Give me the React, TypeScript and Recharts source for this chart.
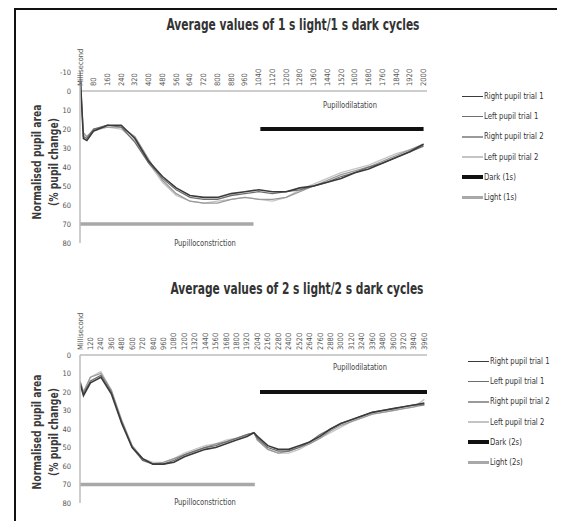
import React from "react";
import { LineChart, Line, XAxis, YAxis, ReferenceLine } from "recharts";

const FONT = "'Liberation Sans Narrow', 'DejaVu Sans Condensed', 'Roboto', sans-serif";

// ---- 1 s light / 1 s dark ----
const MS_1S = [0, 20, 40, 80, 160, 240, 320, 400, 480, 560, 640, 720, 800, 880, 960, 1040, 1120, 1200, 1280, 1360, 1440, 1520, 1600, 1680, 1760, 1840, 1920, 2000];
const RIGHT1_1S = [-10, 25, 26, 21, 18, 18, 25, 37, 45, 51, 55, 56, 56, 54, 53, 52, 53, 53, 51, 50, 48, 46, 43, 41, 38, 35, 32, 28];
const LEFT1_1S = [-10, 24, 25, 20, 18, 19, 27, 38, 46, 52, 56, 57, 57, 55, 54, 53, 54, 53, 52, 50, 48, 45, 43, 40, 38, 35, 32, 29];
const RIGHT2_1S = [null, 22, 24, 20, 19, 19, 24, 36, 47, 54, 58, 59, 59, 57, 56, 57, 57, 56, 53, 50, 47, 44, 42, 40, 37, 34, 31, 28];
const LEFT2_1S = [null, 23, 24, 21, 19, 20, 26, 38, 48, 55, 58, 59, 58, 57, 56, 57, 58, 56, 52, 49, 46, 43, 41, 39, 36, 33, 31, 28];
const LIGHT_MS_1S = [0, 1010];
const DARK_MS_1S = [1050, 2000];
const X_TICKS_1S = [0, 80, 160, 240, 320, 400, 480, 560, 640, 720, 800, 880, 960, 1040, 1120, 1200, 1280, 1360, 1440, 1520, 1600, 1680, 1760, 1840, 1920, 2000];
const Y_TICKS_1S = [-10, 0, 10, 20, 30, 40, 50, 60, 70, 80];
const NAMES_1S = ["Right pupil trial 1", "Left pupil trial 1", "Right pupil trial 2", "Left pupil trial 2", "Dark (1s)", "Light (1s)"];

// ---- 2 s light / 2 s dark ----
const MS_2S = [0, 40, 120, 240, 360, 480, 600, 720, 840, 960, 1080, 1200, 1320, 1440, 1560, 1680, 1800, 1920, 2000, 2040, 2160, 2280, 2400, 2520, 2640, 2760, 2880, 3000, 3120, 3240, 3360, 3480, 3600, 3720, 3840, 3960];
const RIGHT1_2S = [15, 22, 15, 12, 21, 37, 50, 56, 59, 59, 58, 55, 53, 51, 50, 48, 46, 44, 42, 44, 49, 51, 51, 49, 47, 44, 40, 37, 35, 33, 31, 30, 29, 28, 27, 26];
const LEFT1_2S = [16, 21, 14, 11, 20, 36, 50, 57, 59, 59, 57, 54, 52, 50, 49, 47, 45, 43, 42, 45, 50, 52, 52, 50, 47, 43, 40, 37, 35, 33, 31, 30, 29, 28, 27, 27];
const RIGHT2_2S = [14, 20, 12, 10, 19, 36, 49, 56, 59, 58, 56, 54, 52, 50, 48, 47, 45, 43, 42, 46, 51, 53, 52, 50, 48, 45, 41, 38, 36, 34, 32, 31, 30, 29, 28, 27];
const LEFT2_2S = [14, 20, 12, 9, 19, 35, 49, 56, 58, 58, 56, 53, 51, 49, 48, 46, 45, 43, 42, 46, 51, 53, 53, 51, 48, 45, 42, 39, 36, 34, 32, 31, 30, 29, 28, 24];
const LIGHT_MS_2S = [0, 2010];
const DARK_MS_2S = [2070, 3990];
const X_TICKS_2S = [0, 120, 240, 360, 480, 600, 720, 840, 960, 1080, 1200, 1320, 1440, 1560, 1680, 1800, 1920, 2040, 2160, 2280, 2400, 2520, 2640, 2760, 2880, 3000, 3120, 3240, 3360, 3480, 3600, 3720, 3840, 3960];
const Y_TICKS_2S = [0, 10, 20, 30, 40, 50, 60, 70, 80];
const NAMES_2S = ["Right pupil trial 1", "Left pupil trial 1", "Right pupil trial 2", "Left pupil trial 2", "Dark (2s)", "Light (2s)"];

const LIGHT_LEVEL = 70;
const DARK_LEVEL = 20;

// look of each series, same order as the names
const STYLES = [
  { color: "#3a3a3a", width: 1.6 },
  { color: "#6e6e6e", width: 1.3 },
  { color: "#9a9a9a", width: 1.3 },
  { color: "#c4c4c4", width: 1.3 },
  { color: "#111111", width: 4 },
  { color: "#a8a8a8", width: 3.5 },
];

function rowsOf(ms: number[], a: any[], b: any[], c: any[], d: any[]) {
  return ms.map((m, i) => ({ ms: m, r1: a[i], l1: b[i], r2: c[i], l2: d[i] }));
}
function levelRows(ms: number[], v: number) {
  return ms.map((m) => ({ ms: m, v }));
}

function RotTick(props: any) {
  const { x, payload, zeroY } = props;
  const label = payload.value === 0 ? "Millisecond" : String(payload.value);
  return (
    <text
      transform={`translate(${x + 2.5},${zeroY - 5}) rotate(-90)`}
      textAnchor="start"
      fontSize={7.5}
      fill="#555"
      fontFamily={FONT}
    >
      {label}
    </text>
  );
}

type PanelProps = {
  top: number;
  height: number;
  marginTop: number;
  marginBottom: number;
  rows: any[];
  light: any[];
  dark: any[];
  xMax: number;
  xTicks: number[];
  yTicks: number[];
  names: string[];
};

const PLOT_LEFT = 72;
const PLOT_RIGHT = 419;

function Panel(p: PanelProps) {
  const yMin = p.yTicks[0];
  const yMax = p.yTicks[p.yTicks.length - 1];
  const plotTop = p.marginTop + 1;
  const plotH = p.height - p.marginBottom - plotTop;
  const zeroY = plotTop + (plotH * (0 - yMin)) / (yMax - yMin);
  const keys = ["r1", "l1", "r2", "l2"];
  return (
    <div style={{ position: "absolute", left: 0, top: p.top }}>
      <LineChart
        width={557}
        height={p.height}
        margin={{ top: p.marginTop, right: 557 - PLOT_RIGHT, bottom: p.marginBottom, left: PLOT_LEFT - 30 }}
      >
        <XAxis
          dataKey="ms"
          type="number"
          domain={[0, p.xMax]}
          ticks={p.xTicks}
          interval={0}
          orientation="top"
          height={1}
          axisLine={false}
          tickLine={false}
          tick={(t: any) => <RotTick {...t} zeroY={zeroY} />}
          allowDataOverflow
        />
        <YAxis
          type="number"
          reversed
          domain={[yMin, yMax]}
          ticks={p.yTicks}
          interval={0}
          width={30}
          tickLine={false}
          axisLine={{ stroke: "#bdbdbd", strokeWidth: 1.5 }}
          tick={{ fontSize: 7.5, fill: "#555", fontFamily: FONT }}
          tickMargin={3}
        />
        <ReferenceLine y={0} stroke="#bdbdbd" strokeWidth={1.5} />
        <Line data={p.light} dataKey="v" name={p.names[5]} stroke={STYLES[5].color} strokeWidth={STYLES[5].width} dot={false} isAnimationActive={false} />
        <Line data={p.dark} dataKey="v" name={p.names[4]} stroke={STYLES[4].color} strokeWidth={STYLES[4].width} dot={false} isAnimationActive={false} />
        {[3, 2, 1, 0].map((i) => (
          <Line
            key={keys[i]}
            data={p.rows}
            dataKey={keys[i]}
            name={p.names[i]}
            stroke={STYLES[i].color}
            strokeWidth={STYLES[i].width}
            dot={false}
            type="linear"
            isAnimationActive={false}
          />
        ))}
      </LineChart>
    </div>
  );
}

function Legend({ names, left, top }: { names: string[]; left: number; top: number }) {
  return (
    <div style={{ position: "absolute", left, top }}>
      {names.map((n, i) => (
        <div key={n} style={{ position: "absolute", top: i * 20.2, left: 0, display: "flex", alignItems: "center", whiteSpace: "nowrap" }}>
          <div style={{ width: 21, height: STYLES[i].width, background: STYLES[i].color }} />
          <span style={{ marginLeft: 1, fontSize: 9, color: "#333", fontFamily: FONT, lineHeight: "10px", marginTop: -1, display: "inline-block", transform: "scaleX(0.85)", transformOrigin: "left center" }}>{n}</span>
        </div>
      ))}
    </div>
  );
}

function RotLabel({ cx, cy }: { cx: number; cy: number }) {
  return (
    <div
      style={{
        position: "absolute",
        left: cx - 90,
        top: cy - 17,
        width: 180,
        height: 34,
        transform: "rotate(-90deg) scaleX(0.82)",
        textAlign: "center",
        fontFamily: FONT,
        fontWeight: "bold",
        fontSize: 12.5,
        lineHeight: "17px",
        color: "#3a3a3a",
      }}
    >
      Normalised pupil area
      <br />
      (% pupil change)
    </div>
  );
}

function Note({ text, cx, cy }: { text: string; cx: number; cy: number }) {
  return (
    <div style={{ position: "absolute", left: cx - 60, top: cy - 6, width: 120, textAlign: "center", fontFamily: FONT, fontSize: 8.5, color: "#444", lineHeight: "12px", transform: "scaleX(0.88)" }}>
      {text}
    </div>
  );
}

function Title({ text, cx, cy }: { text: string; cx: number; cy: number }) {
  return (
    <div style={{ position: "absolute", left: cx - 180, top: cy - 9, width: 360, textAlign: "center", fontFamily: FONT, fontWeight: "bold", fontSize: 15, color: "#333", lineHeight: "18px", transform: "scaleX(0.79)" }}>
      {text}
    </div>
  );
}

export default function App() {
  const rows1 = rowsOf(MS_1S, RIGHT1_1S, LEFT1_1S, RIGHT2_1S, LEFT2_1S);
  const rows2 = rowsOf(MS_2S, RIGHT1_2S, LEFT1_2S, RIGHT2_2S, LEFT2_2S);
  return (
    <div style={{ position: "relative", width: 557, height: 513, overflow: "hidden", background: "#fff" }}>
      <div style={{ position: "absolute", left: 6, top: 0, width: 600, height: 600, borderTop: "2px solid #111", borderLeft: "2px solid #111" }} />
      <Title text="Average values of 1 s light/1 s dark cycles" cx={285} cy={17} />
      <Panel
        top={0}
        height={250}
        marginTop={63}
        marginBottom={15}
        rows={rows1}
        light={levelRows(LIGHT_MS_1S, LIGHT_LEVEL)}
        dark={levelRows(DARK_MS_1S, DARK_LEVEL)}
        xMax={2020}
        xTicks={X_TICKS_1S}
        yTicks={Y_TICKS_1S}
        names={NAMES_1S}
      />
      <RotLabel cx={37} cy={154} />
      <Note text="Pupillodilatation" cx={342} cy={97} />
      <Note text="Pupilloconstriction" cx={197} cy={235} />
      <Legend names={NAMES_1S} left={454} top={84} />

      <Title text="Average values of 2 s light/2 s dark cycles" cx={289} cy={281} />
      <Panel
        top={260}
        height={253}
        marginTop={86}
        marginBottom={18}
        rows={rows2}
        light={levelRows(LIGHT_MS_2S, LIGHT_LEVEL)}
        dark={levelRows(DARK_MS_2S, DARK_LEVEL)}
        xMax={3990}
        xTicks={X_TICKS_2S}
        yTicks={Y_TICKS_2S}
        names={NAMES_2S}
      />
      <RotLabel cx={37} cy={424} />
      <Note text="Pupillodilatation" cx={352} cy={359} />
      <Note text="Pupilloconstriction" cx={197} cy={494} />
      <Legend names={NAMES_2S} left={460} top={349} />
    </div>
  );
}
